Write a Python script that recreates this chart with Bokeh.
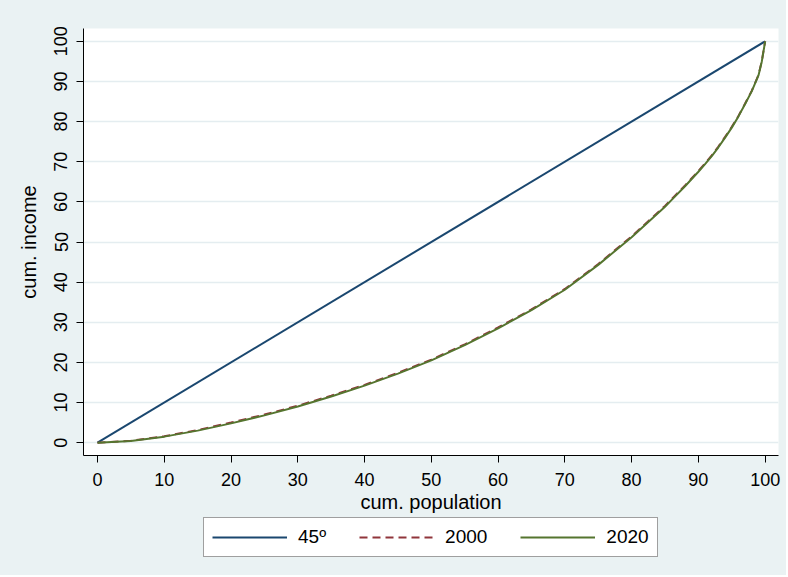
from bokeh.plotting import figure
from bokeh.layouts import column
from bokeh.models import Range1d, FixedTicker, Legend, LegendItem
from bokeh.embed import file_html
from bokeh.resources import INLINE

# ---- data ----
pop = [0, 5, 10, 15, 20, 25, 30, 35, 40, 45, 50, 55, 60, 65, 70, 75, 80, 85,
       86, 88, 90, 91, 92, 93, 94, 95, 96, 97, 98, 99, 99.5, 100]
inc_2000 = [0, 0.45, 1.6, 3.15, 5.0, 7.0, 9.2, 11.7, 14.4, 17.4, 20.7, 24.5, 28.7,
            33.2, 38.3, 44.5, 51.4, 59.0, 60.7, 64.1, 67.7, 69.6, 71.6, 73.8,
            76.2, 78.7, 81.4, 84.5, 87.7, 91.6, 95.1, 100]
inc_2020 = [0, 0.4, 1.5, 3.0, 4.8, 6.8, 9.0, 11.5, 14.2, 17.2, 20.5, 24.3, 28.5,
            33.0, 38.1, 44.3, 51.2, 58.8, 60.5, 63.9, 67.5, 69.4, 71.4, 73.6,
            76.0, 78.5, 81.3, 84.4, 87.6, 91.5, 95.0, 100]
diag_x = [0, 100]
diag_y = [0, 100]
x_ticks = [0, 10, 20, 30, 40, 50, 60, 70, 80, 90, 100]
y_ticks = [0, 10, 20, 30, 40, 50, 60, 70, 80, 90, 100]
labels = ["45º", "2000", "2020"]
x_title = "cum. population"
y_title = "cum. income"

BG = "#eaf2f3"
FONT = "Liberation Sans"
NAVY = "#1a476f"
MAROON = "#90353b"
GREEN = "#55752f"
W = 786

# ---- main plot ----
p = figure(width=W, height=517, output_backend="svg", toolbar_location=None,
           x_range=Range1d(-2.1, 102.0), y_range=Range1d(-3.2, 103.2),
           min_border_left=83, min_border_right=8, min_border_top=28,
           min_border_bottom=62)
p.background_fill_color = "white"
p.border_fill_color = BG
p.outline_line_color = None

p.line(diag_x, diag_y, line_color=NAVY, line_width=2)
p.line(pop, inc_2000, line_color=MAROON, line_width=2, line_dash="8 5")
p.line(pop, inc_2020, line_color=GREEN, line_width=2)

for ax in (p.xaxis[0], p.yaxis[0]):
    ax.axis_line_color = "#000000"
    ax.axis_line_width = 1
    ax.major_tick_line_color = "#000000"
    ax.major_tick_out = 7
    ax.major_tick_in = 0
    ax.minor_tick_line_color = None
    ax.major_label_text_font = FONT
    ax.major_label_text_font_size = "18px"
    ax.major_label_text_color = "#000000"
    ax.axis_label_text_font = FONT
    ax.axis_label_text_font_size = "20px"
    ax.axis_label_text_font_style = "normal"
    ax.axis_label_text_color = "#000000"

p.xaxis[0].ticker = FixedTicker(ticks=x_ticks)
p.yaxis[0].ticker = FixedTicker(ticks=y_ticks)
p.xaxis[0].axis_label = x_title
p.yaxis[0].axis_label = y_title
p.xaxis[0].major_label_standoff = 10
p.xaxis[0].axis_label_standoff = 2
p.yaxis[0].major_label_standoff = 9
p.yaxis[0].axis_label_standoff = 12
p.yaxis[0].major_label_orientation = "vertical"

p.xgrid.grid_line_color = None
p.ygrid.grid_line_color = "#e4edf0"
p.ygrid.grid_line_width = 1.3

# ---- legend strip (same series, drawn outside its visible range) ----
q = figure(width=W, height=58, output_backend="svg", toolbar_location=None,
           x_range=Range1d(-2.1, 102.0), y_range=Range1d(1000, 1001),
           min_border_left=0, min_border_right=0, min_border_top=0,
           min_border_bottom=0, x_axis_type=None, y_axis_type=None)
q.background_fill_color = BG
q.border_fill_color = BG
q.outline_line_color = None
q.grid.visible = False
l45 = q.line(diag_x, diag_y, line_color=NAVY, line_width=2)
l00 = q.line(pop, inc_2000, line_color=MAROON, line_width=2, line_dash="8 5")
l20 = q.line(pop, inc_2020, line_color=GREEN, line_width=2)

legend = Legend(items=[LegendItem(label=labels[0], renderers=[l45]),
                       LegendItem(label=labels[1], renderers=[l00]),
                       LegendItem(label=labels[2], renderers=[l20])],
                orientation="horizontal", location=(120, 18))
legend.glyph_width = 75
legend.glyph_height = 20
legend.label_standoff = 11
legend.spacing = 33
legend.padding = 8
legend.margin = 0
legend.label_height = 20
legend.label_text_font = FONT
legend.label_text_font_size = "19px"
legend.label_text_color = "#000000"
legend.border_line_color = "#404040"
legend.border_line_width = 1
legend.background_fill_color = "white"
legend.background_fill_alpha = 1.0
q.add_layout(legend)

layout = column(p, q, spacing=0, styles={"background-color": BG})
open("out.html", "w").write(file_html(layout, INLINE))
